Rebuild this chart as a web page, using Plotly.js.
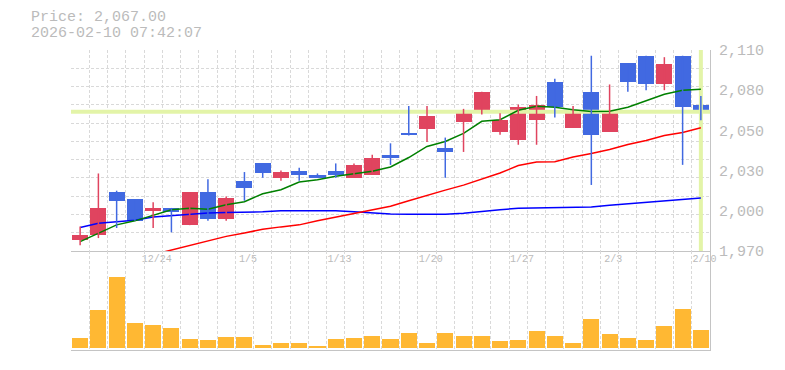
<!DOCTYPE html>
<html><head><meta charset="utf-8">
<script src="https://cdn.plot.ly/plotly-3.0.1.min.js"></script>
<style>html,body{margin:0;padding:0;background:#fff;}#chart{width:785px;height:370px;}</style>
</head><body><div id="chart"></div>
<script>
const dates = ['12/18','12/19','12/22','12/23','12/24','12/25','12/26','12/29','12/30',
  '1/5','1/6','1/7','1/8','1/9','1/13','1/14','1/15','1/16','1/19','1/20','1/21','1/22','1/23',
  '1/26','1/27','1/28','1/29','1/30','2/2','2/3','2/4','2/5','2/6','2/9','2/10'];
const opens  = [1978,1981,2011,2006,1998,2000,1988,2011,1992,2019,2031,2021,2026,2023,2026,2021,2023,2037,2052,2055,2042,2060,2067,2053,2047,2061,2088,2056,2081,2053,2101,2106,2086,2106,2072];
const highs  = [1987,2024,2012,2006,2004,2000,2011,2020,2008,2025,2031,2026,2028,2024,2031,2031,2037,2045,2071,2071,2049,2069,2081,2066,2072,2078,2090,2071,2106,2086,2101,2106,2105,2106,2078];
const lows   = [1974,1979,1986,1991,1986,1983,1988,1991,1991,2005,2021,2019,2019,2021,2021,2021,2023,2030,2050.5,2046,2021,2039,2065,2051,2044,2044,2063,2056,2016,2053,2081,2082,2082,2030,2061];
const closes = [1981,2000,2005,1991,2000,1997,2011,1992,2007,2014,2024,2025,2023,2021,2023,2030,2035,2035,2050.5,2064,2039,2067,2081,2061,2070,2072,2070,2067,2051,2067,2088,2086,2100,2070,2067];
const volumes = [100,380,713,253,230,200,90,80,110,110,30,53,53,20,90,100,120,90,150,50,150,120,120,70,80,170,120,50,290,140,100,80,220,390,180];
const ma5  = [1976.5,1982.6,1988.2,1991.0,1994.9,1998.7,1999.8,1999.1,2002.2,2004.3,2009.9,2012.7,2018.0,2019.7,2022.0,2023.7,2025.6,2028.5,2035.1,2042.8,2046.3,2051.9,2060.3,2061.4,2068.0,2070.8,2070.1,2068.4,2067.1,2067.3,2070.1,2074.7,2079.2,2082.0,2082.7];
const ma25 = [null,null,null,null,1967.5,1970.7,1973.9,1977.0,1980.2,1982.6,1985.1,1986.8,1988.2,1991.0,1993.5,1996.3,1998.7,2001.2,2005.0,2008.9,2012.4,2015.9,2020.1,2024.3,2029.5,2032.0,2032.1,2035.5,2037.9,2040.7,2044.2,2047.0,2050.5,2052.6,2055.9];
const ma75 = [1986.3,1989.4,1990.3,1991.4,1993.6,1994.7,1995.6,1996.4,1996.8,1996.8,1997.3,1998.0,1998.0,1998.0,1998.0,1997.3,1996.6,1995.7,1995.6,1995.6,1995.6,1996.3,1997.7,1998.7,1999.8,2000.1,2000.1,2000.6,2000.6,2001.9,2002.9,2004.0,2005.2,2006.2,2006.9];
const xLabels = ['12/24','1/5','1/13','1/20','1/27','2/3','2/10'];
const yTickVals = [1970,1998,2026,2054,2082,2110];
const yTickText = ['1,970','2,000','2,030','2,050','2,080','2,110'];
const timestamp = '2026-02-10 07:42:07';

const FONT = 'Liberation Mono, DejaVu Sans Mono, monospace';
const TXT = '#bbbbbb';
const GRID = '#d9d9d9';
const LINE = '#c4c4c4';
const UP = '#e0445f', DOWN = '#4169e1';
const HL = '#e3f4a8';

const idx = dates.map((d, i) => i);
const upIdx = idx.filter(i => closes[i] >= opens[i]);
const dnIdx = idx.filter(i => closes[i] < opens[i]);
function wicks(ids) {
  const x = [], y = [];
  ids.forEach(i => { x.push(i, i, null); y.push(lows[i], highs[i], null); });
  return {x, y};
}
function bodies(ids, color) {
  return {type: 'bar', x: ids, base: ids.map(i => Math.min(opens[i], closes[i])),
    y: ids.map(i => Math.abs(closes[i] - opens[i])), width: 0.88,
    marker: {color: color, line: {width: 0}}, xaxis: 'x', yaxis: 'y', hoverinfo: 'skip'};
}
const wu = wicks(upIdx), wd = wicks(dnIdx);
const n = dates.length;
const last = n - 1;
const lastPrice = closes[last];
const yMin = yTickVals[0], yMax = yTickVals[yTickVals.length - 1];

const traces = [
  {type: 'scatter', mode: 'lines', x: [-0.5, n - 0.5], y: [lastPrice, lastPrice], line: {color: HL, width: 4}, xaxis: 'x', yaxis: 'y', hoverinfo: 'skip'},
  {type: 'scatter', mode: 'lines', x: [last, last], y: [yMin, yMax], line: {color: HL, width: 4}, xaxis: 'x', yaxis: 'y', hoverinfo: 'skip'},
  {type: 'scatter', mode: 'lines', x: idx, y: ma75, line: {color: '#0000ff', width: 1.5}, xaxis: 'x', yaxis: 'y', hoverinfo: 'skip'},
  {type: 'scatter', mode: 'lines', x: idx, y: ma25, line: {color: '#ff0000', width: 1.5}, xaxis: 'x', yaxis: 'y', hoverinfo: 'skip'},
  {type: 'scatter', mode: 'lines', x: idx, y: ma5, line: {color: '#008000', width: 1.5}, xaxis: 'x', yaxis: 'y', hoverinfo: 'skip'},
  {type: 'scatter', mode: 'lines', x: wu.x, y: wu.y, line: {color: UP, width: 1.5}, xaxis: 'x', yaxis: 'y', hoverinfo: 'skip'},
  {type: 'scatter', mode: 'lines', x: wd.x, y: wd.y, line: {color: DOWN, width: 1.5}, xaxis: 'x', yaxis: 'y', hoverinfo: 'skip'},
  bodies(upIdx, UP),
  bodies(dnIdx, DOWN),
  {type: 'bar', x: idx, y: volumes, width: 0.88, marker: {color: '#ffb833', line: {width: 0}}, xaxis: 'x3', yaxis: 'y3', hoverinfo: 'skip'},
  {type: 'scatter', mode: 'markers', x: [0], y: [yMin], marker: {opacity: 0}, xaxis: 'x2', yaxis: 'y2', hoverinfo: 'skip'}
];

const gridX = Array.from({length: n + 1}, (_, k) => k - 0.5);
const gridY = Array.from({length: 12}, (_, k) => yMin + k * (yMax - yMin) / 11);
const xr = [-0.5, n - 0.5];

const layout = {
  width: 785, height: 370,
  margin: {l: 71, r: 75, t: 50, b: 20},
  paper_bgcolor: '#fff', plot_bgcolor: '#fff',
  showlegend: false, barmode: 'overlay', bargap: 0,
  font: {family: FONT, color: TXT},
  xaxis: {domain: [0, 1], anchor: 'y', range: xr, tickmode: 'array', tickvals: gridX,
    showticklabels: false, showgrid: true, gridcolor: GRID, griddash: '3px,2px', gridwidth: 1,
    zeroline: false, showline: true, linecolor: LINE, linewidth: 1, ticks: ''},
  xaxis2: {overlaying: 'x', anchor: 'y', range: [xr[0] - 0.2, xr[1] - 0.2], tickmode: 'array',
    tickvals: xLabels.map(d => dates.indexOf(d)), ticktext: xLabels,
    showgrid: false, zeroline: false, showline: false, side: 'bottom',
    ticks: '', tickfont: {family: FONT, size: 10, color: TXT}},
  xaxis3: {domain: [0, 1], anchor: 'y3', range: xr, tickmode: 'array', tickvals: gridX,
    showticklabels: false, showgrid: true, gridcolor: GRID, griddash: '3px,2px', gridwidth: 1,
    zeroline: false, showline: true, linecolor: LINE, linewidth: 1, ticks: ''},
  yaxis: {domain: [0.33, 1], anchor: 'x', side: 'right', range: [yMin, yMax], tickmode: 'array',
    tickvals: gridY, showticklabels: false, showgrid: true, gridcolor: GRID, griddash: '3px,2px',
    gridwidth: 1, zeroline: false, showline: true, linecolor: LINE, linewidth: 1, ticks: ''},
  yaxis2: {overlaying: 'y', anchor: 'x', side: 'right', range: [yMin, yMax], tickmode: 'array',
    tickvals: yTickVals, ticktext: yTickText, showgrid: false, zeroline: false, showline: false,
    ticks: 'outside', ticklen: 5, tickcolor: 'rgba(0,0,0,0)', ticklabelshift: -2.5,
    tickfont: {family: FONT, size: 15, color: TXT}},
  yaxis3: {domain: [0, 0.33], anchor: 'x3', side: 'right', range: [-20, 970],
    showticklabels: false, showgrid: false, zeroline: false, showline: true, linecolor: LINE, linewidth: 1, ticks: ''},
  annotations: [
    {xref: 'paper', yref: 'paper', x: -42/639, y: 1 + 32/300, xanchor: 'left', yanchor: 'middle', showarrow: false,
      text: 'Price: ' + lastPrice.toLocaleString('en-US', {minimumFractionDigits: 2, maximumFractionDigits: 2}),
      font: {family: FONT, size: 15, color: TXT}},
    {xref: 'paper', yref: 'paper', x: -42/639, y: 1 + 17/300, xanchor: 'left', yanchor: 'middle', showarrow: false,
      text: timestamp, font: {family: FONT, size: 15, color: TXT}}
  ]
};

Plotly.newPlot('chart', traces, layout, {displayModeBar: false, staticPlot: true});
</script></body></html>
